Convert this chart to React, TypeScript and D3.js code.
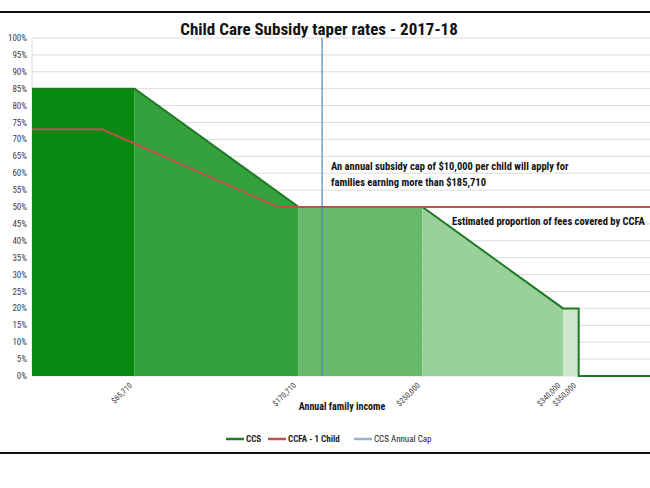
import React from 'react';
import { scaleLinear, area, line, range } from 'd3';

// CCS taper: income breakpoints and subsidy rate (%)
const ccsIncome = [0, 65710, 170710, 250000, 340000, 350000, 350000, 400000];
const ccsRate = [85, 85, 50, 50, 20, 20, 0, 0];

// shaded bands between consecutive CCS breakpoints
const bandShades = ['#078a12', '#35a13c', '#67b96b', '#9ad19b', '#cde7cd'];

// CCFA (one child) estimated proportion of fees (%)
const ccfaIncome = [0, 45000, 157500, 400000];
const ccfaRate = [73, 73, 50, 50];

const capIncome = 185710;

const tickIncome = [65710, 170710, 250000, 340000, 350000];
const tickLabels = ['$65,710', '$170,710', '$250,000', '$340,000', '$350,000'];
const yTicks = range(0, 101, 5);

const legendItems = [
  { label: 'CCS', color: '#1e7a25', bold: true },
  { label: 'CCFA  - 1 Child', color: '#c0504d', bold: true },
  { label: 'CCS Annual Cap', color: '#95b3d7', bold: false },
];

const font = '"Liberation Sans Narrow", "Roboto Condensed", Lato, sans-serif';

export default function App() {
  const W = 650;
  const H = 488;
  const left = 32;
  const top = 38;
  const bottom = 376;

  const x = scaleLinear().domain([0, 400000]).range([left, left + 400 * 1.562]);
  const y = scaleLinear().domain([0, 100]).range([bottom, top]);

  const ccsPts = ccsIncome.map((v, i) => [v, ccsRate[i]] as [number, number]);
  const ccfaPts = ccfaIncome.map((v, i) => [v, ccfaRate[i]] as [number, number]);

  const areaGen = area<[number, number]>()
    .x((d) => x(d[0]))
    .y0(y(0))
    .y1((d) => y(d[1]));
  const lineGen = line<[number, number]>()
    .x((d) => x(d[0]))
    .y((d) => y(d[1]));

  const legendX = [226, 268, 354];

  return (
    <svg
      width={W}
      height={H}
      style={{ position: 'absolute', left: 0, top: 0, background: '#fff' }}
      fontFamily={font}
    >
      <defs>
        <clipPath id="plotClip">
          <rect x={left} y={top - 2} width={W - left} height={bottom - top + 4} />
        </clipPath>
      </defs>

      <rect x={0} y={0} width={W} height={H} fill="#fff" />
      <line x1={0} x2={W} y1={12} y2={12} stroke="#111" strokeWidth={2} />
      <line x1={0} x2={W} y1={453} y2={453} stroke="#111" strokeWidth={2} />

      <text x={319} y={35} textAnchor="middle" fontSize={17} fontWeight="bold" fill="#111">
        Child Care Subsidy taper rates - 2017-18
      </text>

      {/* gridlines */}
      {yTicks.map((t) => (
        <line key={t} x1={left} x2={W} y1={y(t)} y2={y(t)} stroke="#dcdcdc" strokeWidth={1} />
      ))}
      <line x1={left} x2={left} y1={top} y2={bottom} stroke="#dcdcdc" />

      <g clipPath="url(#plotClip)">
        {bandShades.map((c, i) => (
          <path key={i} d={areaGen(ccsPts.slice(i, i + 2)) || ''} fill={c} />
        ))}
        <path d={lineGen(ccsPts) || ''} fill="none" stroke="#1e7a25" strokeWidth={2} />
        <path d={lineGen(ccfaPts) || ''} fill="none" stroke="#c0504d" strokeWidth={2} />
        <line
          x1={x(capIncome)}
          x2={x(capIncome)}
          y1={top}
          y2={bottom}
          stroke="#4f81bd"
          strokeWidth={1.2}
        />
      </g>

      {/* y axis labels */}
      {yTicks.map((t) => (
        <text key={t} x={27} y={y(t) + 3} textAnchor="end" fontSize={9} fill="#404040">
          {t}%
        </text>
      ))}

      {/* x axis labels */}
      {tickIncome.map((v, i) => (
        <text
          key={v}
          transform={`translate(${x(v) - 2},${386}) rotate(-45)`}
          textAnchor="end"
          fontSize={8}
          fill="#404040"
        >
          {tickLabels[i]}
        </text>
      ))}

      <text x={342} y={410} textAnchor="middle" fontSize={10} fontWeight="bold" fill="#111">
        Annual family income
      </text>

      <text x={331} y={170} fontSize={10.5} fontWeight="bold" fill="#111">
        An annual subsidy cap of $10,000 per child will apply for
      </text>
      <text x={331} y={186} fontSize={10.5} fontWeight="bold" fill="#111">
        families earning more than $185,710
      </text>
      <text x={452} y={225} fontSize={10.5} fontWeight="bold" fill="#111">
        Estimated proportion of fees covered by CCFA
      </text>

      {/* legend */}
      {legendItems.map((d, i) => (
        <g key={d.label} transform={`translate(${legendX[i]},439)`}>
          <line x1={0} x2={18} y1={0} y2={0} stroke={d.color} strokeWidth={2.5} />
          <text x={20} y={3} fontSize={9} fontWeight={d.bold ? 'bold' : 'normal'} fill="#222">
            {d.label}
          </text>
        </g>
      ))}
    </svg>
  );
}
